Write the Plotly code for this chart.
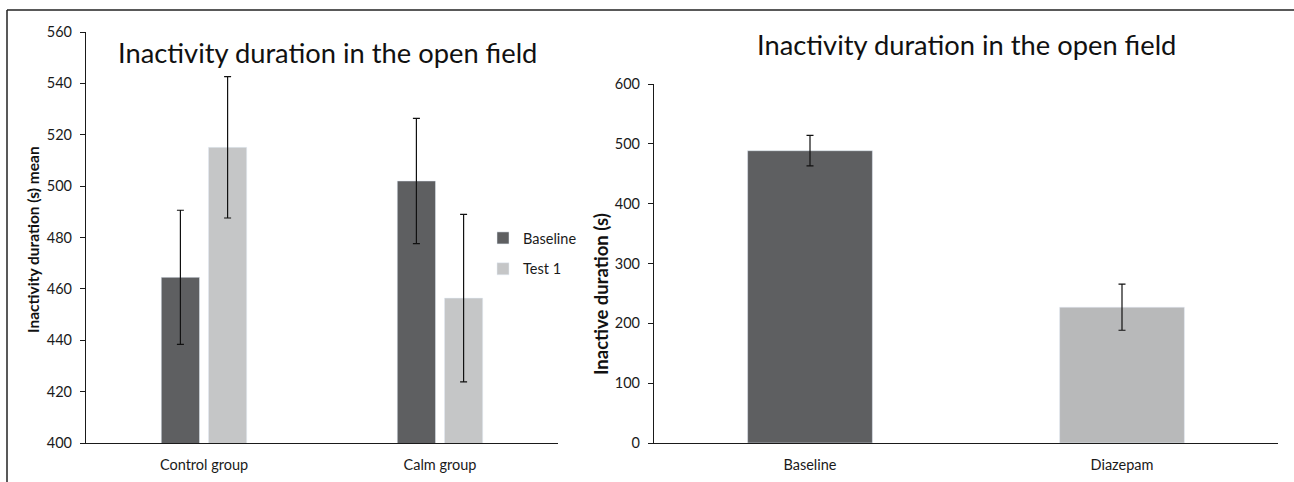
import plotly.graph_objects as go

# ---- data (left chart) ----
groups = ["Control group", "Calm group"]
baseline_mean = [464.5, 502.0]
baseline_err = [26.1, 24.4]
test1_mean = [515.1, 456.4]
test1_err = [27.5, 32.6]

# ---- data (right chart) ----
conditions = ["Baseline", "Diazepam"]
inactive_mean = [488.5, 227.0]
inactive_err = [25.5, 38.6]

title_text = "Inactivity duration in the open field"
left_ytitle = "Inactivity duration (s) mean"
right_ytitle = "Inactive duration (s)"

DARK = "#5e5f61"
LIGHT = "#c5c6c7"
LIGHT2 = "#b8b9ba"
FONT = "Lato"
W, H = 1294, 482
ML, MR, MT, MB = 86, 16, 32, 39
PW = W - ML - MR
PH = H - MT - MB

def px_x(x):
    return (x - ML) / PW

def px_y(y):
    return (H - MB - y) / PH

err_style = dict(type="data", color="#111111", thickness=1.2, width=3.5)

fig = go.Figure()
fig.add_trace(go.Bar(
    x=groups, y=baseline_mean, name="Baseline", marker_color=DARK,
    error_y=dict(array=baseline_err, **err_style),
    xaxis="x", yaxis="y", legendgroup="a",
))
fig.add_trace(go.Bar(
    x=groups, y=test1_mean, name="Test 1", marker_color=LIGHT,
    error_y=dict(array=test1_err, **err_style),
    xaxis="x", yaxis="y", legendgroup="b",
))
fig.add_trace(go.Bar(
    x=conditions, y=inactive_mean, marker_color=[DARK, LIGHT2],
    error_y=dict(array=inactive_err, **err_style),
    xaxis="x2", yaxis="y2", showlegend=False, width=0.4,
))

axis_common = dict(showline=True, linecolor="#1a1a1a", linewidth=1.2,
                   showgrid=False, zeroline=False,
                   tickfont=dict(family=FONT, size=14.5, color="#1a1a1a"))

fig.update_layout(
    width=W, height=H,
    margin=dict(l=ML, r=MR, t=MT, b=MB, autoexpand=False),
    paper_bgcolor="white", plot_bgcolor="white",
    barmode="group", bargap=0.6, bargroupgap=0.19,
    font=dict(family=FONT, color="#1a1a1a"),
    xaxis=dict(domain=[0, px_x(558)], ticks="", ticklabelstandoff=8,
               **axis_common),
    yaxis=dict(domain=[0, 1], range=[400, 560], dtick=20, ticks="outside",
               ticklen=5, tickcolor="#1a1a1a", ticklabelstandoff=5,
               **axis_common),
    xaxis2=dict(domain=[px_x(654), 1], ticks="", anchor="y2", ticklabelstandoff=8,
                **axis_common),
    yaxis2=dict(domain=[0, px_y(84)], range=[0, 600], dtick=100, ticks="outside",
                ticklen=5, tickcolor="#1a1a1a", ticklabelstandoff=5, anchor="x2",
                **axis_common),
    legend=dict(x=px_x(483), y=px_y(222), xanchor="left", yanchor="top",
                traceorder="grouped", tracegroupgap=9,
                font=dict(family=FONT, size=14.5, color="#1a1a1a"),
                bgcolor="rgba(0,0,0,0)", itemclick=False),
    annotations=[
        dict(text=title_text, xref="paper", yref="paper",
             x=px_x(327.5), y=px_y(52), xanchor="center", yanchor="middle",
             showarrow=False, font=dict(family=FONT, size=27.3, color="#111111")),
        dict(text=title_text, xref="paper", yref="paper",
             x=px_x(966), y=px_y(45), xanchor="center", yanchor="middle",
             showarrow=False, font=dict(family=FONT, size=27.3, color="#111111")),
        dict(text="<b>" + left_ytitle + "</b>", xref="paper", yref="paper",
             x=px_x(33), y=px_y(240), xanchor="center", yanchor="middle",
             textangle=-90, showarrow=False,
             font=dict(family=FONT, size=15.5, color="#111111")),
        dict(text="<b>" + right_ytitle + "</b>", xref="paper", yref="paper",
             x=px_x(601), y=px_y(294), xanchor="center", yanchor="middle",
             textangle=-90, showarrow=False,
             font=dict(family=FONT, size=18.5, color="#111111")),
    ],
    shapes=[
        dict(type="line", xref="paper", yref="paper",
             x0=px_x(7), x1=px_x(W), y0=px_y(10), y1=px_y(10),
             line=dict(color="#222222", width=1.5)),
        dict(type="line", xref="paper", yref="paper",
             x0=px_x(7), x1=px_x(7), y0=px_y(10), y1=px_y(H),
             line=dict(color="#222222", width=1.5)),
    ],
)

fig.write_html("out.html")
